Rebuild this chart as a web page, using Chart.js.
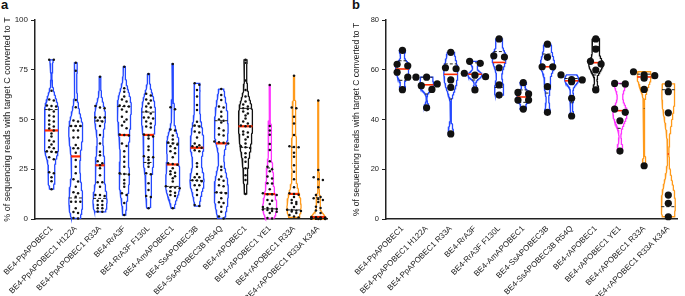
<!DOCTYPE html>
<html>
<head>
<meta charset="utf-8">
<script src="https://cdn.jsdelivr.net/npm/chart.js@4.4.1/dist/chart.umd.min.js"></script>
<style>
  body { margin: 0; background: #fff; width: 685px; height: 296px; position: relative; overflow: hidden; font-family: "Liberation Sans", Arial, sans-serif; }
  .wrap { position: absolute; top: 0; height: 296px; }
  .panel { position: absolute; top: -2px; font-weight: bold; font-size: 13px; line-height: 13px; color: #111; }
</style>
</head>
<body>
<div class="panel" style="left:1px">a</div>
<div class="panel" style="left:352px">b</div>
<div class="wrap" style="left:0;width:340px"><canvas id="chartA"></canvas></div>
<div class="wrap" style="left:340px;width:345px"><canvas id="chartB"></canvas></div>

<script>
// categories shared by both panels
const categories = ['BE4-PpAPOBEC1', 'BE4-PpAPOBEC1 H122A', 'BE4-PpAPOBEC1 R33A', 'BE4-RrA3F',
  'BE4-RrA3F F130L', 'BE4-AmAPOBEC1', 'BE4-SsAPOBEC3B', 'BE4-SsAPOBEC3B R54Q', 'BE4-rAPOBEC1',
  'BE4-rAPOBEC1 YE1', 'BE4-rAPOBEC1 R33A', 'BE4-rAPOBEC1 R33A K34A'];
const violinColors = ['#2448ff', '#2448ff', '#2448ff', '#2448ff', '#2448ff', '#2448ff', '#2448ff', '#2448ff',
  '#111111', '#ff33ff', '#ff9a1a', '#ff9a1a'];
const yTitle = '% of sequencing reads with target C converted to T';

// panel a: per-site values (% C->T)
const a_PpAPOBEC1 = [80, 80, 64.5, 60, 59.5, 57, 56.8, 56.5, 55, 54, 52, 51.5, 49.5, 49, 47.5, 46.5, 45.5, 44.5, 43, 41.5, 39.5, 39, 37.5, 36, 35.5, 34, 33.8, 33.5, 31, 30, 23.5, 23, 21, 19, 15];
const a_PpH122A = [78.5, 74.5, 59.8, 56.1, 49.5, 49, 46.7, 46.7, 46.7, 44.5, 44.5, 41, 41, 37.2, 35.5, 35.5, 33.3, 29.6, 26.3, 23, 20, 18.8, 16.2, 13.5, 13, 11.2, 8.7, 8.7, 8.7, 5.4, 3.5, 3, 0.5, 0.3];
const a_PpR33A = [71.5, 56.8, 56, 55.6, 51, 51, 51, 49.5, 49, 46.7, 42.2, 38, 33.8, 32, 29, 28, 27, 25.5, 22, 18.5, 18.5, 16.2, 12, 12, 11.5, 9.2, 9, 7, 7, 5.4, 5.4, 3.8, 3.6];
const a_RrA3F = [76.5, 65.7, 64, 61.5, 60, 59, 57, 56.8, 56.5, 55, 53.9, 51.4, 50, 48.9, 47, 45.6, 42.5, 42.2, 42, 38, 36.7, 34, 31.3, 28.8, 26.3, 23, 22.6, 22.3, 19.6, 17.9, 16.2, 12.9, 12.1, 8, 2];
const a_RrF130L = [72.9, 63, 62, 60, 59.5, 58, 56.5, 56, 54, 53, 51, 51, 50.5, 49, 48, 46.5, 46, 42.5, 42, 41.5, 40.5, 36.4, 34.7, 31.5, 31, 31, 29.6, 28, 26.3, 23, 22.5, 18, 14.6, 11.5, 11, 5.4];
const a_AmAPOBEC1 = [77.9, 56.1, 55.1, 45, 44.5, 42, 40, 38.5, 38, 37.5, 36.5, 35.5, 34, 33, 31, 28, 27.6, 27.2, 25.5, 24, 23.3, 22.5, 21.5, 20.5, 18.8, 16.5, 16, 15.8, 15.5, 14, 13.2, 12, 11.5, 5.4];
const a_SsA3B = [68.2, 67.5, 64.8, 61.5, 57.3, 54.8, 48.9, 47, 46.5, 44, 43.5, 41, 38, 37, 36.5, 36.2, 35.8, 34.5, 34, 28, 26.3, 22.6, 21, 21, 19.5, 19.3, 19, 17, 17, 14.6, 12.1, 7, 6.5];
const a_SsR54Q = [65.3, 62.3, 59.8, 56.5, 56, 53.9, 51.5, 50, 49.4, 48.5, 45.6, 44.5, 42.5, 42, 39, 38.6, 38.3, 38, 26.3, 24.6, 21.3, 19.8, 19.2, 17, 16.5, 13.5, 13.2, 13, 10.4, 8.4, 8, 6.2, 3.7, 1.2, 0.3];
const a_rAPOBEC1 = [80, 78.5, 69.6, 64.8, 61.5, 59, 57.5, 56.5, 55.6, 55.3, 54, 53, 52, 50.5, 49, 48, 47, 46.6, 46.5, 44, 43.5, 42.5, 41.2, 40, 38, 36.5, 36, 35.7, 33, 31, 28.8, 25.5, 22, 19.6, 12.6];
const a_rYE1 = [67.3, 46.7, 44.5, 42.3, 37.7, 34.7, 29, 26.3, 25, 24, 21.3, 20.3, 18, 17.9, 15, 13, 12.5, 12.4, 12, 9.5, 9.2, 7.5, 6, 5.5, 5.2, 5, 4.8, 4.5, 4, 3.7, 3, 0.5, 0.3];
const a_rR33A = [72, 56, 55.6, 51.4, 48, 42.2, 36.5, 36.2, 36, 33.3, 31.3, 27, 23.8, 20, 16, 13, 12.6, 12.2, 11, 9.5, 8.5, 8, 7.5, 6, 4.6, 4.3, 4.5, 4, 3.8, 3, 2, 1.2, 0.8];
const a_rR33AK34A = [59.5, 24.6, 21, 20, 19.6, 16, 12, 11, 10.4, 10, 9.5, 8.5, 6.2, 5.5, 4.3, 3, 1, 0.9, 0.8, 0.7, 0.6, 0.5, 0.5, 0.4, 0.3, 0.3, 0.2, 0.2, 0.1, 0.1, 0, 0, 0];

// panel b: per-site values (% C->T)
const b_PpAPOBEC1 = [67.8, 62.2, 61.6, 59.0, 57.0, 52.0];
const b_PpH122A = [57.0, 57.0, 54.3, 53.6, 52.1, 44.7];
const b_PpR33A = [67.0, 60.8, 60.4, 55.9, 52.9, 34.2];
const b_RrA3F = [63.4, 62.6, 58.6, 57.8, 57.2, 51.9];
const b_RrF130L = [72.4, 65.6, 65.1, 60.8, 53.9, 49.8];
const b_AmAPOBEC1 = [54.8, 50.9, 50.3, 47.8, 47.8, 44.2];
const b_SsA3B = [70.3, 65.0, 61.2, 61.2, 53.2, 42.9];
const b_SsR54Q = [57.9, 56.0, 55.9, 55.2, 48.5, 41.4];
const b_rAPOBEC1 = [72.4, 68.3, 63.4, 62.3, 59.9, 51.9];
const b_rYE1 = [54.5, 54.3, 44.2, 42.9, 39.5, 27.3];
const b_rR33A = [59.2, 57.9, 57.6, 56.6, 52.1, 21.4];
const b_rR33AK34A = [54.3, 51.2, 42.7, 9.6, 6.3, 0.9];

const yTicksA = [0, 25, 50, 75, 100];
const yTicksB = [0, 20, 40, 60, 80];

const groupsA = [a_PpAPOBEC1, a_PpH122A, a_PpR33A, a_RrA3F, a_RrF130L, a_AmAPOBEC1, a_SsA3B, a_SsR54Q, a_rAPOBEC1, a_rYE1, a_rR33A, a_rR33AK34A];
const groupsB = [b_PpAPOBEC1, b_PpH122A, b_PpR33A, b_RrA3F, b_RrF130L, b_AmAPOBEC1, b_SsA3B, b_SsR54Q, b_rAPOBEC1, b_rYE1, b_rR33A, b_rR33AK34A];

const FONT = 'Liberation Sans';

// quartiles the (n+1) way
function quantile(s, p) {
  const pos = (s.length + 1) * p;
  if (pos <= 1) return s[0];
  if (pos >= s.length) return s[s.length - 1];
  const lo = Math.floor(pos);
  return s[lo - 1] + (pos - lo) * (s[lo] - s[lo - 1]);
}

// spread dots that sit at about the same height
function swarm(vals, cx, thr, gap, maxRow) {
  const s = [...vals].sort((a, b) => b - a);
  const out = [];
  let row = [];
  const flush = () => {
    row.forEach((v, i) => out.push({ x: cx + (i - (row.length - 1) / 2) * gap, y: v }));
    row = [];
  };
  for (const v of s) {
    if (row.length && (row[0] - v > thr || row.length >= maxRow)) flush();
    row.push(v);
  }
  flush();
  return out;
}

function violinSets(groups, cfg) {
  const sets = [];
  groups.forEach((vals, gi) => {
    const cx = gi + 1;
    const s = [...vals].sort((a, b) => a - b);
    const n = s.length;
    const mean = s.reduce((a, b) => a + b, 0) / n;
    const sd = Math.sqrt(s.reduce((a, b) => a + (b - mean) ** 2, 0) / (n - 1));
    const q1 = quantile(s, 0.25), med = quantile(s, 0.5), q3 = quantile(s, 0.75);
    const spread = Math.min(sd, (q3 - q1) / 1.34) || sd;
    const h = cfg.bw * 0.9 * spread * Math.pow(n, -0.2);
    const dens = y => s.reduce((acc, v) => acc + Math.exp(-0.5 * ((y - v) / h) ** 2), 0);
    const lo = s[0], hi = s[n - 1];
    const ys = [];
    for (let i = 0; i <= 150; i++) ys.push(lo + (hi - lo) * i / 150);
    const dmax = Math.max(...ys.map(dens));
    const half = y => cfg.halfW * Math.max(dens(y) / dmax, 0.05);
    const right = ys.map(y => ({ x: cx + half(y), y }));
    const left = ys.map(y => ({ x: cx - half(y), y })).reverse();

    sets.push({ data: swarm(vals, cx, cfg.thr, cfg.gap, cfg.maxRow), showLine: false,
      backgroundColor: '#111', borderWidth: 0, pointRadius: cfg.r, order: 0, clip: false });
    sets.push({ data: [{ x: cx - half(med), y: med }, { x: cx + half(med), y: med }], showLine: true,
      borderColor: '#ff2a00', borderWidth: cfg.medW, pointRadius: 0, order: 1, clip: false });
    [q1, q3].forEach(q => sets.push({ data: [{ x: cx - half(q), y: q }, { x: cx + half(q), y: q }], showLine: true,
      borderColor: '#222', borderWidth: 1, borderDash: [3, 2], pointRadius: 0, order: 2, clip: false }));
    sets.push({ data: [...right, ...left, right[0]], showLine: true, borderColor: violinColors[gi],
      borderWidth: 1.3, pointRadius: 0, fill: false, tension: 0, order: 3, clip: false });
  });
  return sets;
}

function makeChart(id, groups, yTicks, cfg) {
  return new Chart(document.getElementById(id), {
    type: 'scatter',
    data: { datasets: violinSets(groups, cfg) },
    options: {
      responsive: true,
      maintainAspectRatio: false,
      animation: false,
      events: [],
      layout: { padding: cfg.pad },
      plugins: { legend: { display: false }, tooltip: { enabled: false } },
      scales: {
        x: {
          type: 'linear', min: 0.32, max: 12.36,
          afterBuildTicks: s => { s.ticks = categories.map((c, i) => ({ value: i + 1 })); },
          afterFit: s => { s.height = 77; s.paddingLeft = 0; s.paddingRight = 0; },
          grid: { display: false, drawTicks: false },
          border: { color: '#222', width: 1.5 },
          ticks: { autoSkip: false, minRotation: 45, maxRotation: 45, padding: 5, color: '#222',
            font: { family: FONT, size: 8 }, callback: v => categories[v - 1] }
        },
        y: {
          min: 0, max: yTicks[yTicks.length - 1],
          afterBuildTicks: s => { s.ticks = yTicks.map(v => ({ value: v })); },
          afterFit: s => { s.width = cfg.yW; },
          grid: { drawOnChartArea: false, drawTicks: true, tickLength: 4, color: '#222', lineWidth: 1 },
          border: { color: '#222', width: 1.5 },
          ticks: { padding: 3, color: '#222', font: { family: FONT, size: cfg.tickSize } },
          title: { display: true, text: yTitle, color: '#222', font: { family: FONT, size: cfg.titleSize }, padding: { top: 2, bottom: 0 } }
        }
      }
    }
  });
}

makeChart('chartA', groupsA, yTicksA, { pad: { left: 0, top: 20, right: 13, bottom: 0 }, yW: 35,
  bw: 0.6, halfW: 0.29, r: 1.25, thr: 1.4, gap: 0.19, maxRow: 4, medW: 2.2, tickSize: 8, titleSize: 9 });
makeChart('chartB', groupsB, yTicksB, { pad: { left: 10, top: 20, right: 8, bottom: 0 }, yW: 36,
  bw: 0.5, halfW: 0.29, r: 3.6, thr: 2.8, gap: 0.44, maxRow: 3, medW: 1.6, tickSize: 7.5, titleSize: 8.5 });
</script>
</body>
</html>
